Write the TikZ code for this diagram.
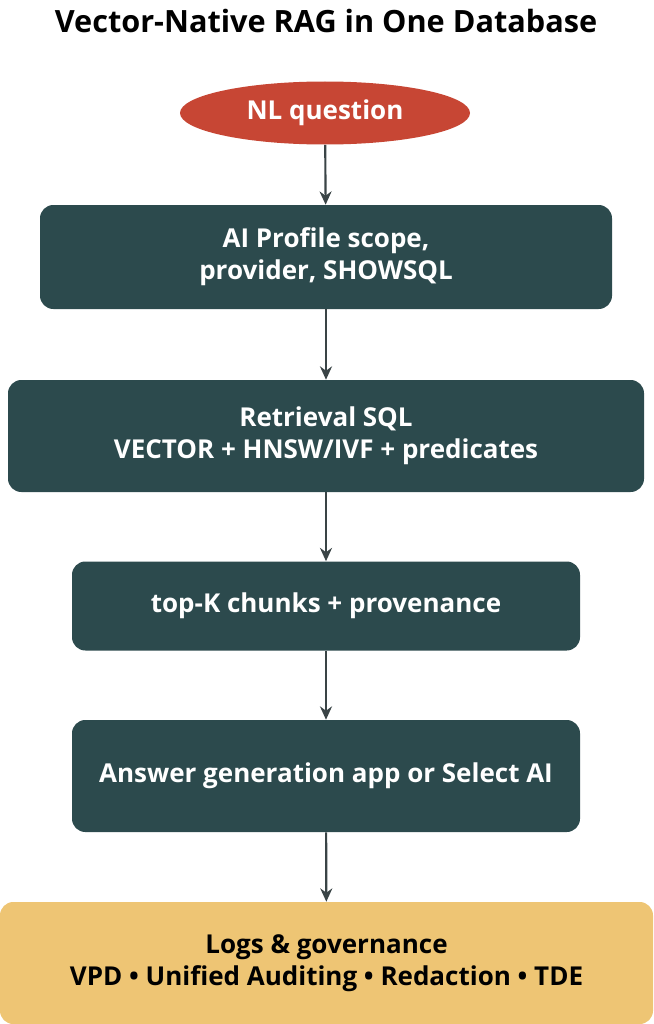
\documentclass[tikz,border=0pt]{standalone}
\usepackage{fontspec}
\setmainfont{Open Sans}
\usetikzlibrary{arrows.meta, shapes.geometric, positioning}
\definecolor{redwood}{HTML}{C74634}
\definecolor{slate}{HTML}{2C4A4D}
\definecolor{sand}{HTML}{EEC574}
\definecolor{ink}{HTML}{3A4446}
\tikzset{
  stage/.style={rectangle, rounded corners=10pt, fill=slate, text=white, align=center,
    font=\fontsize{19.5}{24}\selectfont\bfseries, inner sep=0pt},
  flow/.style={-{Stealth[length=10pt, width=9pt]}, draw=ink, line width=1.6pt}
}
\begin{document}
\begin{tikzpicture}[x=0.75pt, y=-0.75pt]
  \useasboundingbox (0,0) rectangle (653,1024);
  \node[font=\fontsize{23}{27}\selectfont\bfseries] (title) at (326,21) {Vector-Native RAG in One Database};
  \node[ellipse, fill=redwood, text=white, font=\fontsize{19.5}{24}\selectfont\bfseries,
    minimum width=290*0.75pt, minimum height=63*0.75pt, inner sep=0pt] (nlq) at (325,113) {NL question};
  \node[stage, minimum width=572*0.75pt, minimum height=104*0.75pt] (profile) at (326,257)
    {AI Profile scope,\\provider, SHOWSQL};
  \node[stage, minimum width=636*0.75pt, minimum height=112*0.75pt] (retrieval) at (326,436)
    {Retrieval SQL\\VECTOR + HNSW/IVF + predicates};
  \node[stage, minimum width=508*0.75pt, minimum height=89*0.75pt] (chunks) at (326,606)
    {top-K chunks + provenance};
  \node[stage, minimum width=508*0.75pt, minimum height=112*0.75pt] (answer) at (326,776)
    {Answer generation app or Select AI};
  \node[stage, fill=sand, text=black, minimum width=653*0.75pt, minimum height=122*0.75pt] (logs) at (326.5,963)
    {Logs \& governance\\VPD • Unified Auditing • Redaction • TDE};
  % connectors
  \draw[flow] (nlq) -- (profile);
  \draw[flow] (profile) -- (retrieval);
  \draw[flow] (retrieval) -- (chunks);
  \draw[flow] (chunks) -- (answer);
  \draw[flow] (answer) -- (logs);
\end{tikzpicture}
\end{document}
